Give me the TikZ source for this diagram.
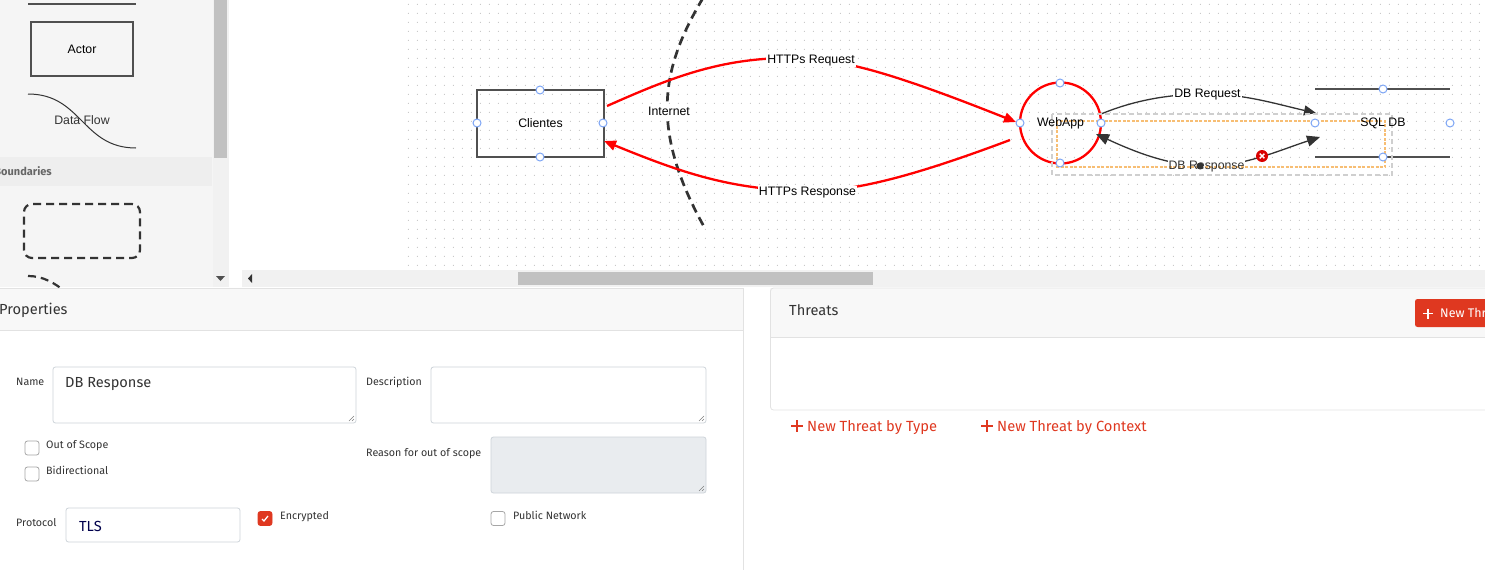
\documentclass[tikz,border=0pt]{standalone}
\usepackage{fontspec}
\setmainfont{Liberation Sans}
\newfontfamily\uifont{Fira Sans}
\usepackage{xcolor}
\usetikzlibrary{arrows.meta,positioning}

\definecolor{uired}{HTML}{DF3820}
\definecolor{panelgrey}{HTML}{F5F5F5}
\definecolor{bandgrey}{HTML}{EEEEEE}
\definecolor{barpale}{HTML}{F1F1F1}
\definecolor{barthumb}{HTML}{C1C1C1}
\definecolor{headgrey}{HTML}{F8F8F8}
\definecolor{edgegrey}{HTML}{E2E2E2}
\definecolor{fieldedge}{HTML}{CED4DA}
\definecolor{fieldoff}{HTML}{E9ECEF}
\definecolor{portblue}{HTML}{7DA5F5}
\definecolor{inkgrey}{HTML}{333333}
\definecolor{shapegrey}{HTML}{505050}
\definecolor{selorange}{HTML}{F7BE74}

\tikzset{
    port/.style = {circle, draw=portblue, fill=white, line width=1pt, minimum size=8pt, inner sep=0pt},
    flowlabel/.style = {fill=white, inner sep=1pt, font=\fontsize{12.3}{14}\selectfont, text=black},
    flatlabel/.style = {inner sep=0pt, font=\fontsize{12.3}{14}\selectfont, text=black},
    redflow/.style = {draw=red, line width=2.3pt},
    darkflow/.style = {draw=inkgrey, line width=1.3pt},
    bigtip/.style = {-{Triangle[length=12pt,width=10pt]}},
    boundary/.style = {draw=inkgrey, line width=2.7pt, dash pattern=on 9pt off 5.5pt},
    formlabel/.style = {inner sep=0pt, anchor=west, text=inkgrey, font=\uifont\fontsize{10.7}{12}\selectfont},
    bigform/.style = {formlabel, font=\uifont\fontsize{14.6}{17}\selectfont},
    fieldbox/.style = {draw=fieldedge, rounded corners=2.5pt, line width=0.8pt},
    tickbox/.style = {draw=gray!70, fill=white, rounded corners=2.5pt, line width=0.8pt, minimum size=14pt, inner sep=0pt},
    linkred/.style = {inner sep=0pt, anchor=west, text=uired, font=\uifont\fontsize{14.7}{17}\selectfont}
}

\begin{document}
\begin{tikzpicture}[x=1pt, y=-1pt]
    \useasboundingbox (0,0) rectangle (1485,570);
    \clip (0,0) rectangle (1485,570);

    % canvas dots
    \foreach \i in {0,...,119} {
        \foreach \j in {0,...,29} {
            \fill [gray!65] ({408.3+9*\i},{4.3+9*\j}) circle (0.5pt);
        }
    }

    % palette
    \fill [panelgrey] (0,0) rectangle (213,287);
    \fill [barpale] (213,0) rectangle (229,287);
    \fill [barthumb] (214,0) rectangle (227,158);
    \fill [shapegrey] (216,276) -- (225,276) -- (220.5,281) -- cycle;
    \fill [bandgrey] (0,157) rectangle (212,186);
    \node [anchor=east, inner sep=0pt, text=gray!80!black, font=\uifont\bfseries\fontsize{11}{13}\selectfont] (boundaries) at (52,171.5) {Boundaries};
    \draw [shapegrey, line width=1.5pt] (28,4) -- (136,4);
    \node [draw=shapegrey, line width=1.8pt, minimum width=102pt, minimum height=54pt, font=\fontsize{12.3}{14}\selectfont] (actor) at (82,49) {Actor};
    \coordinate (flowa) at (28,94);
    \coordinate (flowb) at (136,148);
    \draw [inkgrey, line width=1pt] (flowa) .. controls (82,94) and (82,148) .. (flowb);
    \node [flatlabel, text=inkgrey] (dataflow) at (82,120.5) {Data Flow};
    \node [boundary, draw, line width=2.2pt, rounded corners=8pt, dash pattern=on 8pt off 5pt, minimum width=116pt, minimum height=54pt] (trustbox) at (82,231) {};
    \coordinate (linea) at (28,276);
    \coordinate (lineb) at (70,296);
    \draw [boundary, line width=2.2pt, dash pattern=on 8pt off 5pt] (linea) .. controls (42,276) and (55,282) .. (lineb);

    % horizontal scrollbar
    \fill [barpale] (242,270) rectangle (1485,287);
    \fill [barthumb] (518,272) rectangle (873,285);
    \fill [inkgrey] (252,274) -- (252,283) -- (248,278.5) -- cycle;

    % diagram
    \node [draw=shapegrey, line width=1.2pt, minimum width=127pt, minimum height=67pt, inner sep=0pt] (clientes) at (540.5,123.5) {};
    \node [flatlabel] (clienteslabel) at (540.5,123) {Clientes};
    \node [draw=red, circle, line width=2.3pt, minimum size=81pt, inner sep=0pt] (webapp) at (1060.5,123) {};
    \coordinate (sqlnw) at (1315,89);
    \coordinate (sqlne) at (1450,89);
    \coordinate (sqlsw) at (1315,157);
    \coordinate (sqlse) at (1450,157);
    \draw [shapegrey, line width=1.3pt] (sqlnw) -- (sqlne);
    \draw [shapegrey, line width=1.3pt] (sqlsw) -- (sqlse);

    \draw [boundary] (703,-2) .. controls (660,70) and (650,130) .. (705,228.5) coordinate (internetend);
    \node [flowlabel, inner ysep=2pt] (internet) at (669,111) {Internet};

    % red flows
    \coordinate (reqa) at (607,106);
    \coordinate (reqb) at (1016,122);
    \coordinate (resa) at (1010,140);
    \coordinate (resb) at (604,141);
    \path [redflow, bigtip] (reqa) .. controls (670,78) and (720,58) .. (790,58) .. controls (840,58) and (890,72) .. (reqb);
    \path [redflow, bigtip] (resa) .. controls (930,170) and (860,192) .. (808,191) .. controls (730,190) and (680,172) .. (resb);
    \node [flowlabel] (httpsreq) at (811,60.5) {HTTPs Request};
    \node [flowlabel] (httpsres) at (807.5,192.5) {HTTPs Response};

    % dark flows
    \coordinate (dbreqa) at (1101,114);
    \coordinate (dbreqb) at (1316,113);
    \coordinate (dbresa) at (1320,137);
    \coordinate (dbresb) at (1096,134);
    \path [darkflow, bigtip] (dbreqa) .. controls (1135,100) and (1170,94) .. (1207,94) .. controls (1245,94) and (1280,105) .. (dbreqb);
    \path [darkflow, {Triangle[length=13pt,width=11pt]}-{Triangle[length=13pt,width=11pt]}] (dbresa) .. controls (1280,150) and (1245,166) .. (1207,166) .. controls (1170,166) and (1135,152) .. (dbresb);
    \node [flowlabel] (dbreq) at (1207.5,95) {DB Request};
    \node [flowlabel, text opacity=0] (dbresback) at (1206.5,167) {DB Response};

    % selection frames
    \draw [gray!38, line width=1.1pt, dash pattern=on 5pt off 3pt] (1052,114) rectangle (1392,175);
    \draw [selorange, line width=1.25pt, dash pattern=on 3pt off 1.5pt] (1057,121) rectangle (1385,167);

    \node [flatlabel] (webapplabel) at (1060.5,123) {WebApp};
    \node [flatlabel] (sqllabel) at (1383,123) {SQL DB};
    \node [flatlabel, text=inkgrey] (dbres) at (1206.5,167) {DB Response};
    \node [circle, fill=inkgrey, minimum size=7pt, inner sep=0pt] (vertex) at (1200,166) {};
    \node [circle, fill=red!85!black, minimum size=12pt, inner sep=0pt] (removeflow) at (1262,156) {};
    \draw [white, line width=1.4pt] ([shift={(-2.3,-2.3)}]removeflow.center) -- ([shift={(2.3,2.3)}]removeflow.center);
    \draw [white, line width=1.4pt] ([shift={(-2.3,2.3)}]removeflow.center) -- ([shift={(2.3,-2.3)}]removeflow.center);

    % ports
    \node [port] (clientesn) at (540,90) {};
    \node [port] (clientesw) at (477,123) {};
    \node [port] (clientese) at (603,123) {};
    \node [port] (clientess) at (540,157) {};
    \node [port] (webappn) at (1060,83) {};
    \node [port] (webappw) at (1020,123) {};
    \node [port] (webappe) at (1101,123) {};
    \node [port] (webapps) at (1060,163) {};
    \node [port] (sqln) at (1383,89) {};
    \node [port] (sqlw) at (1315,123) {};
    \node [port] (sqle) at (1450,123) {};
    \node [port] (sqls) at (1383,157) {};

    % properties panel
    \fill [white] (0,288) rectangle (743,570);
    \fill [headgrey] (0,288) rectangle (743,330);
    \draw [edgegrey, line width=0.8pt] (0,288) -- (743,288);
    \draw [edgegrey, line width=0.8pt] (0,330.5) -- (743,330.5);
    \draw [edgegrey, line width=0.8pt] (743,288) -- (743,570);
    \node [bigform] (properties) at (-1,310.5) {Properties};

    \node [formlabel] (namelabel) at (16,382) {Name};
    \draw [fieldbox] (53,367) rectangle (356,423);
    \node [bigform] (nametext) at (65,384.5) {DB Response};
    \draw [gray, line width=0.5pt] (349,421) -- (354,416) (352,421) -- (354,419);
    \node [formlabel] (desclabel) at (366,382) {Description};
    \draw [fieldbox] (431,367) rectangle (706,423);
    \draw [gray, line width=0.5pt] (699,421) -- (704,416) (702,421) -- (704,419);
    \node [tickbox] (outbox) at (32,448) {};
    \node [formlabel] (outlabel) at (46,445.5) {Out of Scope};
    \node [tickbox] (bibox) at (32,474) {};
    \node [formlabel] (bilabel) at (46,470.5) {Bidirectional};
    \node [formlabel] (reasonlabel) at (366,453.5) {Reason for out of scope};
    \draw [fieldbox, fill=fieldoff] (491,437) rectangle (706,493);
    \draw [gray, line width=0.5pt] (699,491) -- (704,486) (702,491) -- (704,489);
    \node [formlabel] (protolabel) at (16,523) {Protocol};
    \draw [fieldbox] (66,508) rectangle (240,542);
    \node [bigform, text=blue!30!black] (prototext) at (79,526) {TLS};
    \node [tickbox, draw=uired, fill=uired] (encbox) at (265,518.5) {};
    \draw [white, line width=1.3pt] ([shift={(-3,0.5)}]encbox.center) -- ([shift={(-1,2.5)}]encbox.center) -- ([shift={(3,-2.5)}]encbox.center);
    \node [formlabel] (enclabel) at (280,516.5) {Encrypted};
    \node [tickbox] (pubbox) at (498,518.5) {};
    \node [formlabel] (publabel) at (513,515.5) {Public Network};

    % threats panel
    \fill [headgrey] (770,288) rectangle (1490,337);
    \draw [edgegrey, line width=0.8pt, rounded corners=3pt] (1490,288) -- (770.5,288) -- (770.5,410) -- (1490,410);
    \draw [edgegrey, line width=0.8pt] (770.5,337.5) -- (1490,337.5);
    \node [bigform] (threats) at (789,310) {Threats};
    \fill [uired, rounded corners=2.5pt] (1415,299) rectangle (1500,327);
    \node [linkred, text=white, font=\uifont\fontsize{12.5}{15}\selectfont] (newthr) at (1440,313) {New Thr};
    \draw [white, line width=1.1pt] (1423,313.5) -- (1433,313.5) (1428,308.5) -- (1428,318.5);
    \node [linkred] (bytype) at (807,427.5) {New Threat by Type};
    \draw [uired, line width=1.3pt] (791,426) -- (803,426) (797,420) -- (797,432);
    \node [linkred] (bycontext) at (997,427.5) {New Threat by Context};
    \draw [uired, line width=1.3pt] (981,426) -- (993,426) (987,420) -- (987,432);
\end{tikzpicture}
\end{document}
